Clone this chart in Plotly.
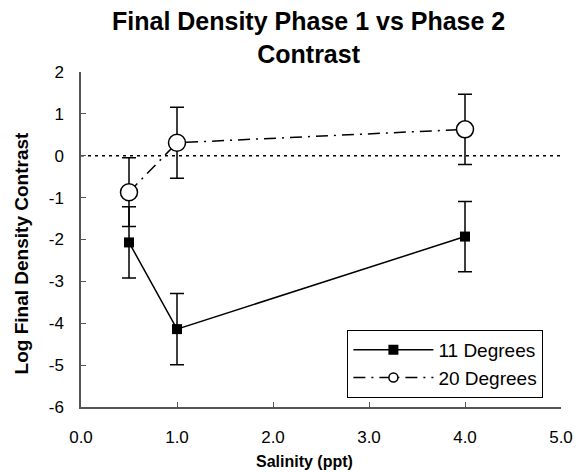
import plotly.graph_objects as go

salinity = [0.5, 1.0, 4.0]
deg11 = [-2.07, -4.14, -1.93]
deg11_err = [0.85, 0.85, 0.84]
deg20 = [-0.87, 0.31, 0.63]
deg20_err = [0.82, 0.85, 0.84]
ref_x = [0.0, 5.0]
ref_y = [0.0, 0.0]
x_ticks = [0, 1, 2, 3, 4, 5]
x_labels = ["0.0", "1.0", "2.0", "3.0", "4.0", "5.0"]
y_ticks = [-6, -5, -4, -3, -2, -1, 0, 1, 2]
y_labels = ["-6", "-5", "-4", "-3", "-2", "-1", "0", "1", "2"]

FONT = "Liberation Sans, Arial, sans-serif"
DASHDOT = "12px,6px,2px,6px"

fig = go.Figure()
fig.add_trace(go.Scatter(
    x=ref_x, y=ref_y, mode="lines", showlegend=False, hoverinfo="skip",
    line=dict(color="black", width=1.5, dash="3px,4px")))
fig.add_trace(go.Scatter(
    x=salinity, y=deg11, name="11 Degrees", mode="lines+markers", legendgroup="a",
    showlegend=False,
    line=dict(color="black", width=1.5),
    marker=dict(symbol="square", size=10, color="black"),
    error_y=dict(type="data", array=deg11_err, color="black", thickness=1.5, width=7)))
fig.add_trace(go.Scatter(
    x=salinity, y=deg20, name="20 Degrees", mode="lines+markers", legendgroup="b",
    showlegend=False,
    line=dict(color="black", width=1.5, dash=DASHDOT),
    marker=dict(symbol="circle", size=17, color="white", line=dict(color="black", width=1.5)),
    error_y=dict(type="data", array=deg20_err, color="black", thickness=1.5, width=7)))
# legend entries (same styling, smaller legend markers)
fig.add_trace(go.Scatter(
    x=[None], y=[None], name="11 Degrees", mode="lines+markers", legendgroup="a",
    line=dict(color="black", width=1.5),
    marker=dict(symbol="square", size=10, color="black")))
fig.add_trace(go.Scatter(
    x=[None], y=[None], name="20 Degrees", mode="lines+markers", legendgroup="b",
    line=dict(color="black", width=1.5, dash=DASHDOT),
    marker=dict(symbol="circle", size=9, color="white", line=dict(color="black", width=1.5))))

fig.update_layout(
    width=585, height=473,
    margin=dict(l=81, r=14, t=72, b=66),
    paper_bgcolor="white", plot_bgcolor="white",
    font=dict(family=FONT, size=17, color="black"),
    annotations=[
        dict(text="<b>Final Density Phase 1 vs Phase 2<br>Contrast</b>",
             xref="paper", yref="paper", x=0.473, y=1.2, xanchor="center", yanchor="top",
             showarrow=False, font=dict(family=FONT, size=25, color="black")),
        dict(text="<b>Salinity (ppt)</b>", xref="paper", yref="paper",
             x=0.465, y=-0.164, xanchor="center", yanchor="middle",
             showarrow=False, font=dict(family=FONT, size=16, color="black")),
        dict(text="<b>Log Final Density Contrast</b>", xref="paper", yref="paper",
             x=-0.124, y=0.46, xanchor="center", yanchor="middle", textangle=-90,
             showarrow=False, font=dict(family=FONT, size=19, color="black")),
    ],
    xaxis=dict(range=[0, 5], tickvals=x_ticks, ticktext=x_labels,
               showline=True, linecolor="#555", linewidth=1.5,
               ticks="inside", ticklen=5, tickcolor="#555", showgrid=False, zeroline=False,
               ticklabelstandoff=14),
    yaxis=dict(range=[-6, 2], tickvals=y_ticks, ticktext=y_labels,
               showline=True, linecolor="#555", linewidth=1.5,
               ticks="inside", ticklen=5, tickcolor="#555", showgrid=False, zeroline=False,
               ticklabelstandoff=12),
    legend=dict(x=0.555, y=0.23, xanchor="left", yanchor="top",
                bordercolor="black", borderwidth=1, bgcolor="white",
                font=dict(size=19), itemwidth=80, tracegroupgap=0),
)
fig.write_html("out.html", post_script="document.body.style.margin='0';",
               config={"displayModeBar": False})
